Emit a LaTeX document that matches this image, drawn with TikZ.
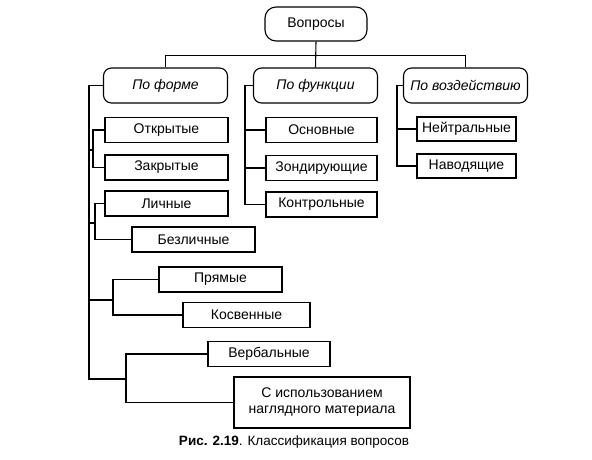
\documentclass[tikz,border=0pt]{standalone}
\usepackage{fontspec}
\setmainfont{Liberation Sans}
\usetikzlibrary{positioning}

\begin{document}
\begin{tikzpicture}[x=1pt, y=-1pt, line width=1.1pt, every node/.style={font=\fontsize{14}{16}\selectfont}]
\tikzset{root/.style={draw, rounded corners=11pt, minimum width=102pt, minimum height=34pt, inner sep=2pt}}
\tikzset{group/.style={draw, rounded corners=8pt, minimum width=124pt, minimum height=35pt, inner sep=2pt, font=\fontsize{14}{16}\selectfont\itshape}}
\tikzset{leaf/.style={draw, minimum width=123pt, minimum height=25pt, inner sep=2pt, align=center}}
\useasboundingbox (0,0) rectangle (592,459);
% top level
\node[root] (vopr) at (316,24) {Вопросы};
\node[group] (forma) at (165.5,85.5) {По форме};
\node[group] (funk) at (315.5,85.5) {По функции};
\node[group] (vozd) at (465.5,85.5) {По воздействию};
% po forme
\node[leaf] (otkr) at (166.5,130) {Открытые};
\node[leaf] (zakr) at (166.5,167.5) {Закрытые};
\node[leaf] (lich) at (166.5,203.5) {Личные};
\node[leaf] (bezl) at (193.5,239.5) {Безличные};
\node[leaf] (pryam) at (220.5,279.5) {Прямые};
\node[leaf, minimum width=127pt] (kosv) at (246.5,315) {Косвенные};
\node[leaf, minimum width=122pt] (verb) at (269,354) {Вербальные};
\node[leaf, minimum width=176pt, minimum height=51pt] (nagl) at (322,402.5) {С использованием\\наглядного материала};
% po funkcii
\node[leaf, minimum width=111pt] (osn) at (321.5,130) {Основные};
\node[leaf, minimum width=111pt] (zond) at (321.5,168) {Зондирующие};
\node[leaf, minimum width=111pt] (kontr) at (321.5,204.5) {Контрольные};
% po vozdejstviyu
\node[leaf, minimum width=99pt, minimum height=24pt] (neit) at (466.5,129) {Нейтральные};
\node[leaf, minimum width=99pt, minimum height=24pt] (navod) at (466.5,166) {Наводящие};
\node[font=\fontsize{13.5}{15}\selectfont] (cap) at (294,442) {\textbf{Рис. 2.19}. Классификация вопросов};
% bus points
\coordinate (fbus) at (89,379);
\coordinate (g1) at (93,150);
\coordinate (g2) at (95,223);
\coordinate (g3) at (113,300);
\coordinate (g4) at (126,379);
% connectors
\draw (vopr.south) -- (funk.north);
\draw (forma.north) -- ++(0,-12) -| (vozd.north);
\draw (forma.west) -| (fbus) -- (g4);
\draw (otkr.west) -| (g1) |- (zakr.west);
\draw (lich.west) -| (g2) |- (bezl.west);
\draw (pryam.west) -| (g3) |- (kosv.west);
\draw (verb.west) -| (g4) |- (nagl.west);
\draw (g1) -- (g1 -| fbus);
\draw (g2) -- (g2 -| fbus);
\draw (g3) -- (g3 -| fbus);
\draw (funk.west) -- ++(-8,0) |- (kontr.west);
\draw (osn.west) -- ++(-20,0);
\draw (zond.west) -- ++(-20,0);
\draw (vozd.west) -- ++(-6,0) |- (navod.west);
\draw (neit.west) -- ++(-20,0);
\end{tikzpicture}
\end{document}
